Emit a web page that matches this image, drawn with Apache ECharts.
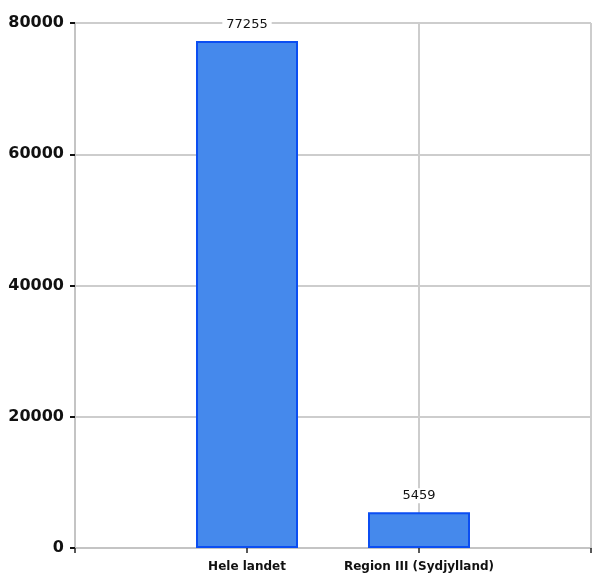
<!DOCTYPE html>
<html>
<head>
<meta charset="utf-8">
<script src="https://cdn.jsdelivr.net/npm/echarts@6/dist/echarts.min.js"></script>
<style>html,body{margin:0;padding:0;background:#fff}#c{width:594px;height:577px}</style>
</head>
<body>
<div id="c"></div>
<script>
const categories = ["Hele landet", "Region III (Sydjylland)"];
const values = [77255, 5459];
const yTicks = [0, 20000, 40000, 60000, 80000];

// padded category slots: empty slot on each side of the two bars
const xSlots = [''].concat(categories, ['']);
const seriesData = [null].concat(values, [null]);

const chart = echarts.init(document.getElementById('c'), null, {renderer: 'canvas'});
chart.setOption({
  animation: false,
  grid: {left: 75, right: 1, top: 23, bottom: 29, containLabel: false},
  xAxis: {
    type: 'category', data: xSlots, boundaryGap: false,
    axisLine: {show: true, lineStyle: {color: '#c4c4c4', width: 2}},
    axisTick: {show: true, length: 5, interval: 0, lineStyle: {color: '#222', width: 1.5}},
    splitLine: {show: true, interval: (i) => i !== 1, lineStyle: {color: '#cdcdcd', width: 2}},
    axisLabel: {
      margin: 13, interval: 0,
      fontFamily: 'DejaVu Sans', fontWeight: 'bold', fontSize: 12, color: '#111'
    }
  },
  yAxis: {
    type: 'value', min: yTicks[0], max: yTicks[yTicks.length - 1], interval: 20000,
    axisLine: {show: true, lineStyle: {color: '#c4c4c4', width: 2}},
    axisTick: {show: true, length: 5, lineStyle: {color: '#111', width: 2}},
    splitLine: {show: true, lineStyle: {color: '#cdcdcd', width: 2}},
    axisLabel: {margin: 11, fontFamily: 'DejaVu Sans', fontWeight: 'bold', fontSize: 16, color: '#111',
      formatter: v => String(v)}
  },
  series: [{
    type: 'bar', data: seriesData, barWidth: 102,
    itemStyle: {color: '#4589ec', borderColor: '#0b4ef2', borderWidth: 2},
    label: {
      show: true, position: 'top', distance: 9,
      fontFamily: 'DejaVu Sans', fontSize: 13, color: '#111',
      backgroundColor: '#fff', padding: [1, 4]
    }
  }]
});
</script>
</body>
</html>
